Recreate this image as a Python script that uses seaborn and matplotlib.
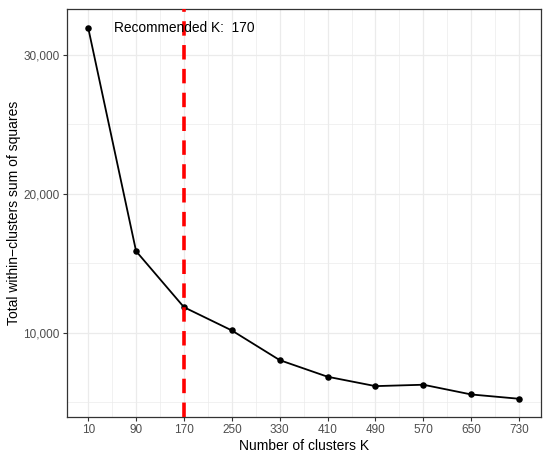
import matplotlib
matplotlib.use("Agg")
import matplotlib.pyplot as plt
import seaborn as sns
import pandas as pd
from matplotlib.ticker import FuncFormatter, FixedLocator

k_values = [10, 90, 170, 250, 330, 410, 490, 570, 650, 730]
wss = [31940, 15870, 11840, 10165, 8030, 6835, 6160, 6260, 5560, 5250]
recommended_k = 170
x_ticks = [10, 90, 170, 250, 330, 410, 490, 570, 650, 730]
y_ticks = [10000, 20000, 30000]

sns.set_theme(style="white")
plt.rcParams['font.family'] = ['Liberation Sans', 'DejaVu Sans']

df = pd.DataFrame({"k": k_values, "wss": wss})

fig = plt.figure(figsize=(5.5, 4.54), dpi=100)
ax = fig.add_axes([0.1212, 0.0808, 0.983 - 0.1212, 0.9795 - 0.0808])

sns.lineplot(data=df, x="k", y="wss", ax=ax, color="black", linewidth=1.3, zorder=3)
sns.scatterplot(data=df, x="k", y="wss", ax=ax, color="black", s=22, edgecolor="black", linewidth=0, zorder=4)

ax.axvline(recommended_k, color="#FF0000", linestyle=(0, (4, 2.6)), linewidth=2.6, zorder=5)

ax.text(recommended_k, max(wss), "Recommended K:  %d" % recommended_k, ha="center", va="center",
        fontsize=9.9, color="black", zorder=6)

xr = max(k_values) - min(k_values)
ax.set_xlim(min(k_values) - 0.05 * xr, max(k_values) + 0.05 * xr)
yr = max(wss) - min(wss)
ax.set_ylim(min(wss) - 0.05 * yr, max(wss) + 0.05 * yr)

ax.xaxis.set_major_locator(FixedLocator(x_ticks))
ax.xaxis.set_minor_locator(FixedLocator([x + 40 for x in x_ticks[:-1]] + [x_ticks[0] - 40, x_ticks[-1] + 40]))
ax.yaxis.set_major_locator(FixedLocator(y_ticks))
ax.yaxis.set_minor_locator(FixedLocator([5000, 15000, 25000]))
ax.yaxis.set_major_formatter(FuncFormatter(lambda v, p: f"{int(v):,}"))

ax.grid(which="major", color="#EBEBEB", linewidth=0.9)
ax.grid(which="minor", color="#EBEBEB", linewidth=0.5)
ax.set_axisbelow(True)

for s in ax.spines.values():
    s.set_color("#333333")
    s.set_linewidth(0.9)

ax.tick_params(axis="both", which="major", length=3, width=0.8, color="#333333",
               labelsize=8.5, labelcolor="#4D4D4D", pad=2, bottom=True, left=True)
ax.tick_params(axis="both", which="minor", length=0)

ax.set_xlabel("Number of clusters K", fontsize=10, color="black", labelpad=2)
ax.set_ylabel("Total within\u2212clusters sum of squares", fontsize=10, color="black", labelpad=2)

fig.savefig("out.png", dpi=100)
